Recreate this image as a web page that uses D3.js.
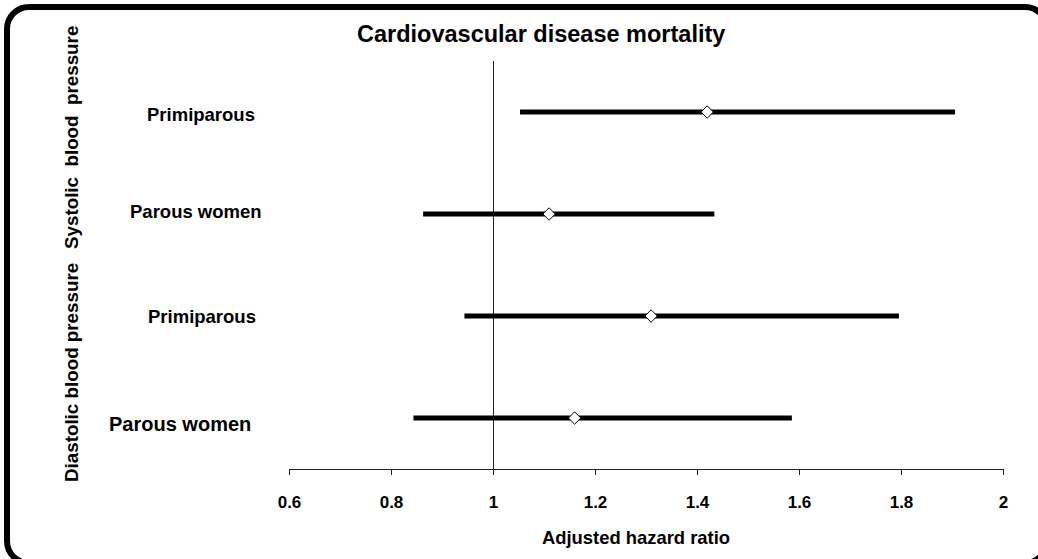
<!DOCTYPE html>
<html lang="en">
<head>
<meta charset="UTF-8">
<title>Cardiovascular disease mortality</title>
<script src="https://d3js.org/d3.v7.min.js"></script>
<style>
  body { margin: 0; background: #fff; }
  text { font-family: "Liberation Sans", Arial, sans-serif; font-weight: bold; fill: #000; white-space: pre; }
</style>
</head>
<body>
<script>
// data
const title = "Cardiovascular disease mortality";
const xLabel = "Adjusted hazard ratio";
const groups = ["Systolic  blood  pressure", "Diastolic blood pressure"];
const rowLabels = ["Primiparous", "Parous women", "Primiparous", "Parous women"];
const rowGroup = [0, 0, 1, 1];
const hazard = [1.42, 1.11, 1.31, 1.16];
const lower = [1.053, 0.863, 0.944, 0.844];
const upper = [1.906, 1.434, 1.796, 1.586];
const ticks = [0.6, 0.8, 1, 1.2, 1.4, 1.6, 1.8, 2];

const rows = rowLabels.map((label, i) => ({
  id: i, label, group: rowGroup[i], hr: hazard[i], lo: lower[i], hi: upper[i]
}));

// label layout (start x, baseline offset from the bar, font size)
const labelX = [147, 130, 148, 109];
const labelDy = [9, 4, 7, 12.7];
const labelSize = [18.5, 18.5, 18.5, 20];

const width = 1038, height = 559;
const axisY = 469;

const svg = d3.select("body").append("svg")
  .attr("width", width)
  .attr("height", height);

// rounded frame, partly cut off at right and bottom
svg.append("rect")
  .attr("x", 7).attr("y", 7)
  .attr("width", 1040).attr("height", 556)
  .attr("rx", 22).attr("ry", 22)
  .attr("fill", "none")
  .attr("stroke", "#000")
  .attr("stroke-width", 6);

const x = d3.scaleLinear()
  .domain([0.6, 2])
  .range([289, 1003]);

const y = d3.scalePoint()
  .domain(rows.map(d => d.id))
  .range([112, 418]);

svg.append("text")
  .attr("x", 357).attr("y", 42)
  .style("font-size", "23.5px")
  .text(title);

// x axis
const axis = svg.append("g")
  .attr("transform", `translate(0,${axisY})`)
  .call(d3.axisBottom(x)
    .tickValues(ticks)
    .tickFormat(d => String(d))
    .tickSize(6)
    .tickSizeOuter(0)
    .tickPadding(21));
axis.select(".domain").attr("stroke", "#222");
axis.selectAll(".tick line").attr("stroke", "#222");
axis.selectAll(".tick text")
  .style("font-size", "17px")
  .attr("font-family", null);

svg.append("text")
  .attr("x", 542).attr("y", 544)
  .style("font-size", "18.4px")
  .text(xLabel);

// reference line at HR = 1
svg.append("line")
  .attr("x1", x(1) + 0.5).attr("x2", x(1) + 0.5)
  .attr("y1", 61).attr("y2", axisY)
  .attr("stroke", "#222")
  .attr("stroke-width", 1);

// confidence intervals
svg.append("g")
  .selectAll("line").data(rows).join("line")
  .attr("x1", d => x(d.lo))
  .attr("x2", d => x(d.hi))
  .attr("y1", d => y(d.id))
  .attr("y2", d => y(d.id))
  .attr("stroke", "#000")
  .attr("stroke-width", 5);

// point estimates
svg.append("g")
  .selectAll("path").data(rows).join("path")
  .attr("transform", d => `translate(${x(d.hr)},${y(d.id)})`)
  .attr("d", d3.symbol(d3.symbolDiamond2, 98))
  .attr("fill", "#fff")
  .attr("stroke", "#000")
  .attr("stroke-width", 1);

// row labels
svg.append("g")
  .selectAll("text").data(rows).join("text")
  .attr("x", d => labelX[d.id])
  .attr("y", d => y(d.id) + labelDy[d.id])
  .style("font-size", d => labelSize[d.id] + "px")
  .text(d => d.label);

// group labels, rotated
const groupStart = [249, 482];
svg.append("g")
  .selectAll("text").data(groups).join("text")
  .attr("transform", (d, i) => `translate(78,${groupStart[i]}) rotate(-90)`)
  .style("font-size", "18.8px")
  .text(d => d);
</script>
</body>
</html>
